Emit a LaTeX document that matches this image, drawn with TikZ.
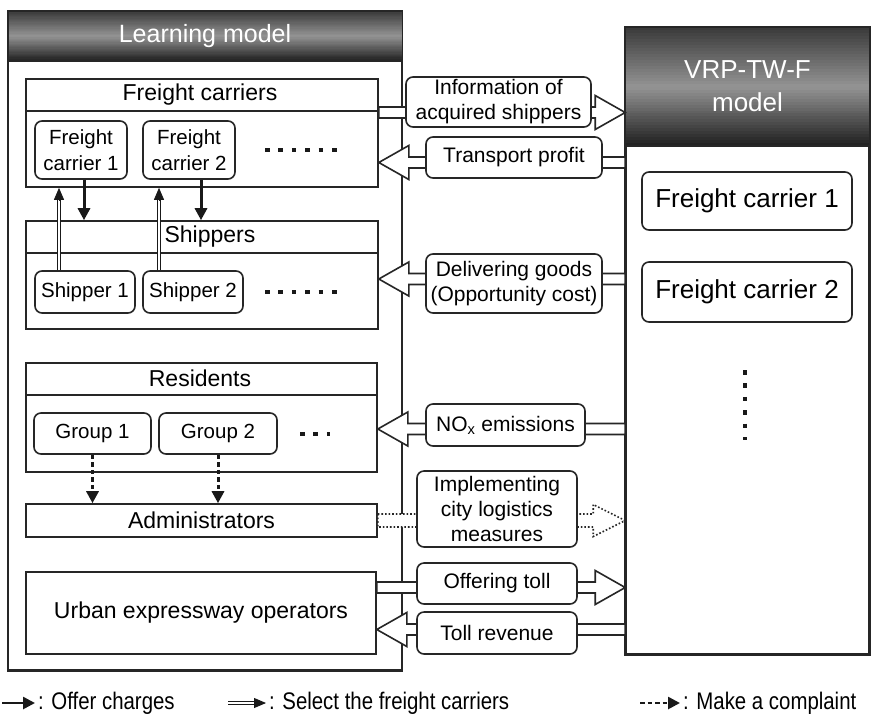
\documentclass[tikz,border=0pt]{standalone}
\usepackage{fontspec}
\setmainfont{Liberation Sans}
\newfontfamily\legendfont[FakeStretch=0.85]{Liberation Sans}
\usetikzlibrary{arrows.meta,calc}
\newcommand\sh{5.5}
\newcommand\hw{17}
\newcommand\hl{30}
\newcommand\barR[3][]{\draw[barrow,#1] ($(#2)+(0,-\sh)$) -- ($(#3)+(-\hl,-\sh)$) -- ($(#3)+(-\hl,-\hw)$) -- (#3) -- ($(#3)+(-\hl,\hw)$) -- ($(#3)+(-\hl,\sh)$) -- ($(#2)+(0,\sh)$) -- cycle;}
\newcommand\barL[3][]{\draw[barrow,#1] ($(#2)+(0,-\sh)$) -- ($(#3)+(\hl,-\sh)$) -- ($(#3)+(\hl,-\hw)$) -- (#3) -- ($(#3)+(\hl,\hw)$) -- ($(#3)+(\hl,\sh)$) -- ($(#2)+(0,\sh)$) -- cycle;}
% vertical gradient header: #1 node, #2 height
\newcommand\gradhead[2]{%
  \foreach \i in {0,...,39} {%
    \pgfmathsetmacro\tt{(\i+0.5)/40}%
    \pgfmathsetmacro\kk{\tt<0.5 ? 78-72*\tt : 42+92*(\tt-0.5)}%
    \fill[black!\kk] ($(#1.north west)+(0,#2*\i/40)$) rectangle ($(#1.north east)+(0,#2*\i/40+#2/40+0.3)$);
  }}
\tikzset{
  box/.style={draw=black!85, line width=1.6pt, fill=white, inner sep=0pt, align=center},
  rbox/.style={box, rounded corners=7pt},
  edge/.style={draw=black!85, line width=1.6pt},
  barrow/.style={draw=black!85, line width=1.6pt, fill=white, line join=miter},
  htext/.style={text=white, align=center, inner sep=0pt},
  big/.style={font=\fontsize{25pt}{33pt}\selectfont},
  hd/.style={font=\fontsize{23pt}{27pt}\selectfont},
  sm/.style={font=\fontsize{20.5pt}{26pt}\selectfont},
  mid/.style={font=\fontsize{21pt}{25pt}\selectfont},
  offer/.style={draw=black!90, line width=3pt, -{Triangle[length=12pt,width=12pt]}},
  selline/.style={draw=black!90, double=white, double distance=2.4pt, line width=0.9pt},
  seltip/.style={draw=black!90, line width=0.9pt, -{Triangle[length=12pt,width=10pt]}},
  compl/.style={draw=black!90, line width=3pt, dash pattern=on 4.5pt off 3pt, -{Triangle[length=12pt,width=12pt]}},
  dots/.style={draw=black!90, line width=4.5pt, dash pattern=on 4.5pt off 8.9pt},
  legtext/.style={anchor=west, inner sep=0pt, font=\legendfont\fontsize{24pt}{28pt}\selectfont}
}
\begin{document}
\begin{tikzpicture}[x=1pt,y=-1pt]
\useasboundingbox[fill=white] (0,0) rectangle (872,724);

% ---------- Learning model ----------
\node[box, minimum width=393pt, minimum height=658pt] (learn) at (205,341) {};
\gradhead{learn}{50}
\draw[edge] ([yshift=-50pt]learn.north west) -- ([yshift=-50pt]learn.north east);
\draw[edge] (learn.north west) rectangle (learn.south east);
\node[htext, big] (learnhd) at ($(learn.north)+(0,25)$) {Learning model};

% Freight carriers
\node[box, minimum width=352pt, minimum height=108pt] (fcbox) at (202,133) {};
\draw[edge] ([yshift=-33pt]fcbox.north west) -- ([yshift=-33pt]fcbox.north east);
\node[hd, inner sep=0pt] (fchd) at ($(fcbox.north)+(-2,16.5)$) {Freight carriers};
\node[rbox, sm, minimum width=92pt, minimum height=58pt] (fc1) at (81,150) {Freight\\carrier 1};
\node[rbox, sm, minimum width=92pt, minimum height=58pt] (fc2) at (189,150) {Freight\\carrier 2};
\draw[dots] (265,150) -- (337,150);

% Shippers
\node[box, minimum width=352pt, minimum height=108pt] (shbox) at (202,275) {};
\draw[edge] ([yshift=-33pt]shbox.north west) -- ([yshift=-33pt]shbox.north east);
\node[hd, inner sep=0pt] (shhd) at ($(shbox.north)+(8,16.5)$) {Shippers};
\node[rbox, sm, minimum width=100pt, minimum height=42pt] (sh1) at (85,292) {Shipper 1};
\node[rbox, sm, minimum width=100pt, minimum height=42pt] (sh2) at (193,292) {Shipper 2};
\draw[dots] (265,292) -- (337,292);

% Residents
\node[box, minimum width=351pt, minimum height=109pt] (resbox) at (201.5,417.5) {};
\draw[edge] ([yshift=-33pt]resbox.north west) -- ([yshift=-33pt]resbox.north east);
\node[hd, inner sep=0pt] (reshd) at ($(resbox.north)+(-1.5,16.5)$) {Residents};
\node[rbox, sm, minimum width=117pt, minimum height=41pt] (g1) at (92.5,433.5) {Group 1};
\node[rbox, sm, minimum width=118pt, minimum height=41pt] (g2) at (218,433.5) {Group 2};
\draw[dots] (300,434) -- (330,434);

% Administrators, operators
\node[box, hd, minimum width=351pt, minimum height=33pt] (admin) at (201.5,520.5) {Administrators};
\node[box, hd, minimum width=350pt, minimum height=82pt] (urban) at (201,613) {Urban expressway operators};

% ---------- VRP-TW-F model ----------
\node[box, minimum width=243pt, minimum height=626pt] (vrp) at (747.5,341) {};
\gradhead{vrp}{119}
\draw[edge] ([yshift=-119pt]vrp.north west) -- ([yshift=-119pt]vrp.north east);
\draw[edge] (vrp.north west) rectangle (vrp.south east);
\node[htext, font=\fontsize{26pt}{33pt}\selectfont] (vrphd) at ($(vrp.north)+(0,59)$) {VRP-TW-F\\model};
\node[rbox, font=\fontsize{26pt}{30pt}\selectfont, minimum width=210pt, minimum height=58pt] (vfc1) at (747,201) {Freight carrier 1};
\node[rbox, font=\fontsize{26pt}{30pt}\selectfont, minimum width=210pt, minimum height=60pt] (vfc2) at (747,292) {Freight carrier 2};
\draw[dots] (745,370) -- (745,440);

% ---------- inner connectors ----------
\coordinate (o1) at ([xshift=3pt]fc1.south);
\coordinate (o2) at ([xshift=12pt]fc2.south);
\draw[offer] (o1) -- (o1 |- shbox.north);
\draw[offer] (o2) -- (o2 |- shbox.north);

\coordinate (s1) at ([xshift=-26pt]sh1.north);
\coordinate (s2) at ([xshift=-34pt]sh2.north);
\coordinate (s1t) at (s1 |- fcbox.south);
\coordinate (s2t) at (s2 |- fcbox.south);
\draw[selline] (s1) -- ($(s1t)+(0,11)$);
\draw[seltip] ($(s1t)+(0,12)$) -- (s1t);
\draw[selline] (s2) -- ($(s2t)+(0,11)$);
\draw[seltip] ($(s2t)+(0,12)$) -- (s2t);

\draw[compl] (g1.south) -- (g1.south |- admin.north);
\draw[compl] (g2.south) -- (g2.south |- admin.north);

% ---------- block arrows between the models ----------
\coordinate (a1s) at (fcbox.east |- 0,112.5);
\coordinate (a1e) at (vrp.west |- 0,112.5);
\coordinate (a2s) at (vrp.west |- 0,162.5);
\coordinate (a2e) at (fcbox.east |- 0,162.5);
\coordinate (a3s) at (vrp.west |- 0,279);
\coordinate (a3e) at (shbox.east |- 0,279);
\coordinate (a4s) at (vrp.west |- 0,429);
\coordinate (a4e) at (resbox.east |- 0,429);
\coordinate (a5s) at (admin.east);
\coordinate (a5e) at (vrp.west |- admin.east);
\coordinate (a6s) at (urban.east |- 0,587.5);
\coordinate (a6e) at (vrp.west |- 0,587.5);
\coordinate (a7s) at (vrp.west |- 0,629.5);
\coordinate (a7e) at (urban.east |- 0,629.5);

\barR{a1s}{a1e}
\barL{a2s}{a2e}
\barL{a3s}{a3e}
\barL{a4s}{a4e}
\begingroup
\renewcommand\sh{6.5}\renewcommand\hw{16}\renewcommand\hl{32}
\barR[dotted, line width=1.6pt]{a5s}{a5e}
\endgroup
\barR{a6s}{a6e}
\barL{a7s}{a7e}

\node[rbox, mid, minimum width=185pt, minimum height=50pt] (info) at (498.5,102) {Information of\\acquired shippers};
\node[rbox, mid, minimum width=176pt, minimum height=41pt] (tprof) at (514,157.5) {Transport profit};
\node[rbox, mid, minimum width=176pt, minimum height=59pt] (deliv) at (514,283.5) {Delivering goods\\(Opportunity cost)};
\node[rbox, mid, minimum width=159pt, minimum height=42pt] (nox) at (505.5,425) {NO\textsubscript{x} emissions};
\node[rbox, mid, minimum width=160pt, minimum height=76pt] (impl) at (497,509) {Implementing\\city logistics\\measures};
\node[rbox, mid, minimum width=160pt, minimum height=41pt] (offer) at (497,583.5) {Offering toll};
\node[rbox, mid, minimum width=160pt, minimum height=42pt] (tollrev) at (497,633) {Toll revenue};

% ---------- legend ----------
\coordinate (l1s) at (2,703);
\coordinate (l1e) at (35,703);
\draw[offer, line width=2.6pt] (l1s) -- (l1e);
\node[legtext] (lt1) at (38,703) {: Offer charges};
\coordinate (l2s) at (228,703);
\coordinate (l2e) at (266,703);
\draw[selline] (l2s) -- ($(l2e)+(-11,0)$);
\draw[seltip] ($(l2e)+(-12,0)$) -- (l2e);
\node[legtext] (lt2) at (269,703) {: Select the freight carriers};
\coordinate (l3s) at (640,703);
\coordinate (l3e) at (680,703);
\draw[compl, line width=2.6pt] (l3s) -- (l3e);
\node[legtext] (lt3) at (683,703) {: Make a complaint};
\end{tikzpicture}
\end{document}
